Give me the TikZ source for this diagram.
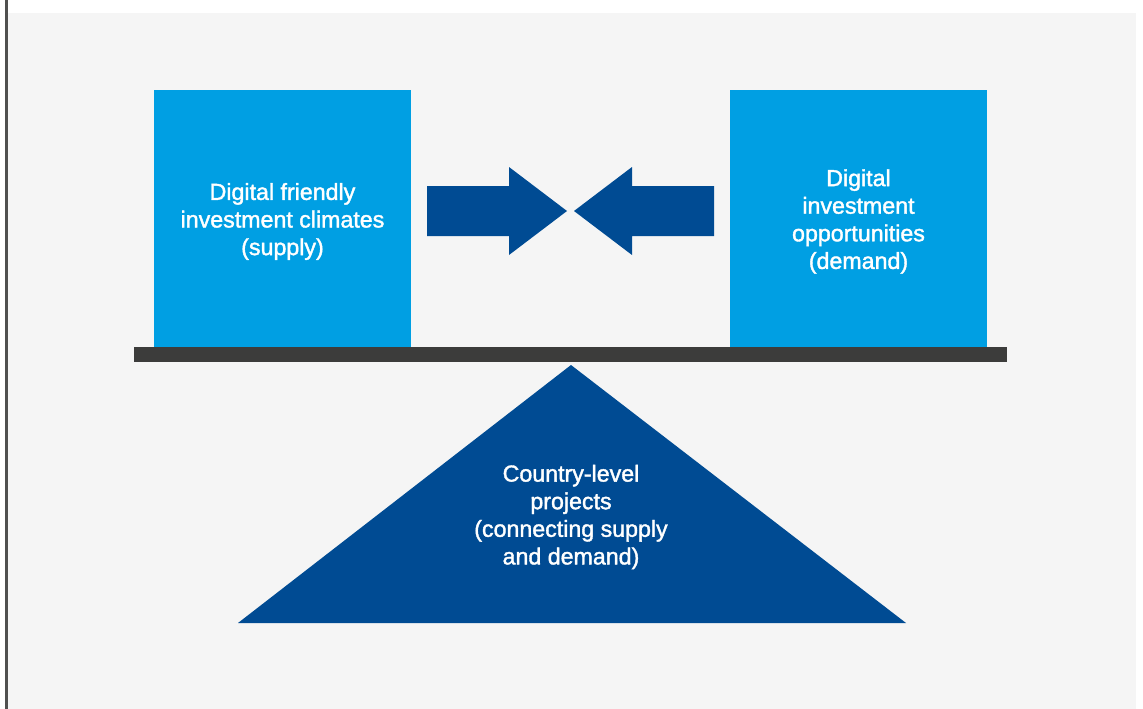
\documentclass[tikz,border=0pt]{standalone}
\usepackage{fontspec}
\setmainfont{Liberation Sans}
\newfontfamily\labelfont[FakeBold=1.6]{Liberation Sans}
\usepackage{tikz}
\usetikzlibrary{calc}

\definecolor{lightblue}{HTML}{009FE3}
\definecolor{darkblue}{HTML}{004B93}
\definecolor{beam}{HTML}{3C3C3B}
\definecolor{panel}{HTML}{F5F5F5}

\tikzset{
    label text/.style={text=white, align=center, font=\labelfont\fontsize{23.2}{27.6}\selectfont},
    box/.style={fill=lightblue, draw=none, minimum width=257pt, minimum height=257pt, inner sep=0pt}
}

\begin{document}
\begin{tikzpicture}[x=1pt,y=-1pt]
            \useasboundingbox (0,0) rectangle (1143,709);
            \fill[white] (0,0) rectangle (1143,709);
            \fill[panel] (7,13) rectangle (1136,709);
            \fill[beam!90] (5,0) rectangle (7.5,709);
            \node[box] (Supply) at (282.5,218.5) {};
            \node[box] (Demand) at (858.5,218.5) {};
            \fill[beam] (134,347) rectangle (1007,362);
            \fill[darkblue] (571,365) -- (906,623) -- (238,623) -- cycle;
            \fill[darkblue] (427,186) -- (509,186) -- (509,167) -- (567,211) -- (509,255) -- (509,236) -- (427,236) -- cycle;
            \fill[darkblue] (714,186) -- (632,186) -- (632,167) -- (574,211) -- (632,255) -- (632,236) -- (714,236) -- cycle;
            \node[label text] (SupplyText) at ($(Supply)+(0,3)$) {Digital friendly\\investment climates\\(supply)};
            \node[label text] (DemandText) at ($(Demand)+(0,3)$) {Digital\\investment\\opportunities\\(demand)};
            \node[label text] (Projects) at (571,517) {Country-level\\projects\\(connecting supply\\and demand)};
        \end{tikzpicture}
\end{document}
